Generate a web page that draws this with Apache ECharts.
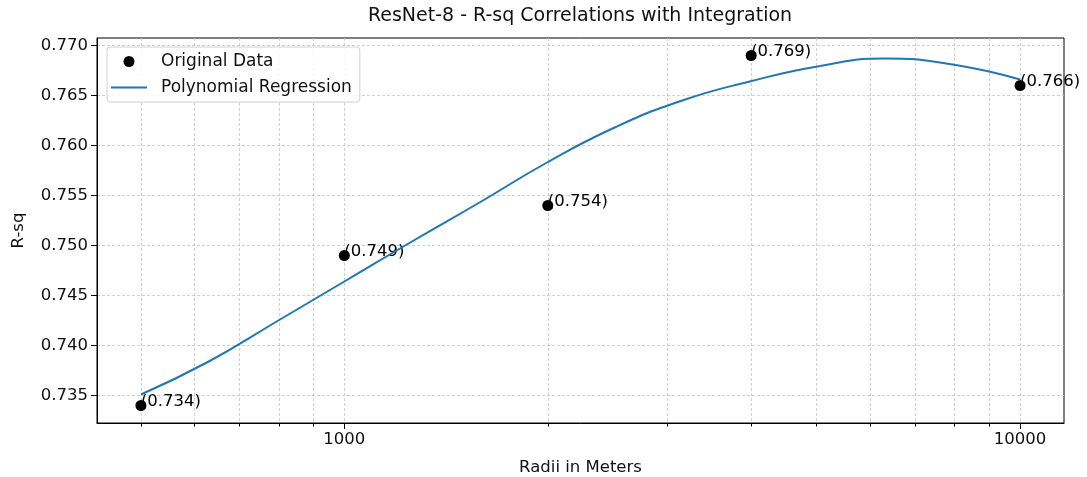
<!DOCTYPE html>
<html>
<head>
<meta charset="utf-8">
<script src="https://cdn.jsdelivr.net/npm/echarts@6/dist/echarts.min.js"></script>
<style>
  html, body { margin: 0; padding: 0; background: #fff; }
  #main { width: 1087px; height: 477px; }
</style>
</head>
<body>
<div id="main"></div>
<script>
// 原始数据点
const radii = [500, 1000, 2000, 4000, 10000];
const rsq = [0.734, 0.749, 0.754, 0.769, 0.766];

// 多项式回归曲线
const fitX = [500, 630, 794, 1000, 1259, 1585, 1995, 2512, 3162, 3981, 5012, 6310, 7943, 10000];
const fitY = [0.7351, 0.7384, 0.7424, 0.7464, 0.7504, 0.7543, 0.7583, 0.7618, 0.7645, 0.7664, 0.7679, 0.7687, 0.7681, 0.7666];

// 刻度
const xMajorTicks = [1000, 10000];
const xMinorTicks = [500, 600, 700, 800, 900, 2000, 3000, 4000, 5000, 6000, 7000, 8000, 9000];
const yTicks = [0.735, 0.740, 0.745, 0.750, 0.755, 0.760, 0.765, 0.770];

const font = 'DejaVu Sans';
const gridLine = { show: true, lineStyle: { color: '#c4c4c4', width: 0.8, type: [3, 2] } };

var myChart = echarts.init(document.getElementById('main'));

let scatterData = [];
radii.forEach(function (r, i) {
    scatterData.push([r, rsq[i]]);
});
let fitData = [];
fitX.forEach(function (x, i) {
    fitData.push([x, fitY[i]]);
});

var option = {
    animation: false,
    backgroundColor: '#fff',
    title: {
        text: 'ResNet-8 - R-sq Correlations with Integration',
        left: 580,
        top: 7,
        padding: 0,
        textAlign: 'center',
        textStyle: { fontFamily: font, fontSize: 19, fontWeight: 'normal', color: '#111' }
    },
    legend: {
        orient: 'vertical',
        left: 107,
        top: 47,
        padding: [6, 8, 6, 4],
        itemGap: 9,
        itemWidth: 36,
        itemHeight: 11,
        backgroundColor: 'rgba(255,255,255,0.85)',
        borderColor: '#d0d0d0',
        borderWidth: 1,
        borderRadius: 3,
        textStyle: { fontFamily: font, fontSize: 17, color: '#111', lineHeight: 17, padding: [0, 0, 0, 9] },
        data: [
            { name: 'Original Data', icon: 'circle' },
            { name: 'Polynomial Regression', icon: 'path://M0,0H36V2H0Z' }
        ]
    },
    grid: {
        left: 97,
        right: 23,
        top: 38,
        bottom: 54,
        show: true,
        borderColor: '#000',
        borderWidth: 1,
        containLabel: false,
        outerBoundsMode: 'none'
    },
    xAxis: [
        {
            type: 'log',
            logBase: 10,
            min: 430.5,
            max: 11614,
            name: 'Radii in Meters',
            nameLocation: 'middle',
            nameGap: 36,
            nameTextStyle: { fontFamily: font, fontSize: 16.5, color: '#111' },
            axisLine: { show: true, lineStyle: { color: '#000' } },
            axisTick: { show: true, length: 6, customValues: xMajorTicks, lineStyle: { color: '#000' } },
            axisLabel: {
                customValues: xMajorTicks,
                fontFamily: font, fontSize: 16.5, color: '#111', margin: 8,
                formatter: function (v) { return String(Math.round(v)); }
            },
            splitLine: gridLine
        },
        {
            type: 'log',
            logBase: 10,
            min: 430.5,
            max: 11614,
            position: 'bottom',
            offset: 0,
            axisLine: { show: false },
            axisTick: { show: true, length: 3.5, customValues: xMinorTicks, lineStyle: { color: '#000' } },
            axisLabel: { show: false },
            splitLine: gridLine
        }
    ],
    yAxis: {
        type: 'value',
        min: 0.73225,
        max: 0.77075,
        name: 'R-sq',
        nameLocation: 'middle',
        nameGap: 70,
        nameTextStyle: { fontFamily: font, fontSize: 16.5, color: '#111' },
        axisLine: { show: true, lineStyle: { color: '#000' } },
        axisTick: { show: true, length: 6, customValues: yTicks, lineStyle: { color: '#000' } },
        axisLabel: {
            customValues: yTicks,
            fontFamily: font, fontSize: 16.5, color: '#111', margin: 9,
            formatter: function (v) { return v.toFixed(3); }
        },
        splitLine: gridLine
    },
    series: [
        {
            name: 'Original Data',
            type: 'scatter',
            xAxisIndex: 0,
            symbol: 'circle',
            symbolSize: 11,
            itemStyle: { color: '#000', opacity: 1 },
            label: {
                show: true,
                position: [5.5, 5.5],
                align: 'left',
                verticalAlign: 'middle',
                offset: [0, -4],
                fontFamily: font,
                fontSize: 16.5,
                color: '#000',
                formatter: function (p) { return '(' + p.value[1].toFixed(3) + ')'; }
            },
            data: scatterData,
            z: 3
        },
        {
            name: 'Polynomial Regression',
            type: 'line',
            xAxisIndex: 0,
            smooth: true,
            symbol: 'none',
            lineStyle: { color: '#1f77b4', width: 2 },
            itemStyle: { color: '#1f77b4' },
            data: fitData,
            z: 4
        }
    ]
};
myChart.setOption(option);
</script>
</body>
</html>
